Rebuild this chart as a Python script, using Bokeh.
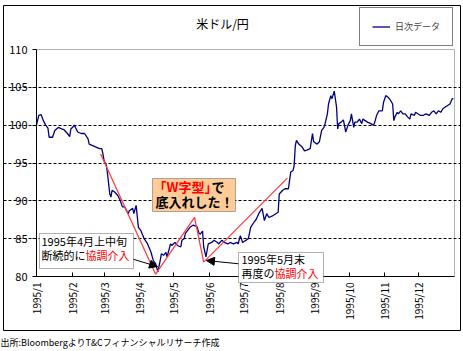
import numpy as np
from bokeh.plotting import figure
from bokeh.models import (FixedTicker, Label, BoxAnnotation, Arrow, NormalHead,
                          Legend, LegendItem, Range1d, Title)
from bokeh.embed import file_html
from bokeh.resources import INLINE

W, H = 463, 351
FONT = "Noto Sans CJK JP"

# ---- data: USD/JPY daily close, 1995 (x = day offset from 1995-01-01) ----
day = [0, 2, 4, 6, 8, 10, 11, 14, 16, 19, 22, 24, 27, 29, 30, 32, 33, 36, 39, 42,
       45, 46, 49, 52, 55, 57, 58, 59, 61, 62, 64, 65, 66, 68, 71, 73, 75, 77, 80, 81,
       84, 85, 87, 89, 91, 94, 97, 100, 102, 104, 106, 108, 109, 111, 113, 114, 116, 117, 118, 121,
       123, 126, 127, 129, 130, 132, 134, 137, 140, 142, 143, 145, 146, 148, 149, 150, 153, 155, 158, 159,
       162, 164, 167, 169, 172, 175, 176, 178, 180, 185, 187, 190, 192, 194, 197, 199, 201, 203, 206, 209,
       211, 212, 215, 217, 220, 221, 222, 224, 225, 226, 227, 229, 232, 234, 236, 239, 241, 242, 245, 247,
       249, 251, 252, 254, 255, 257, 258, 260, 262, 263, 264, 266, 268, 270, 272, 274, 275, 277, 278, 280,
       282, 284, 285, 287, 289, 292, 294, 295, 297, 299, 302, 303, 305, 307, 309, 311, 312, 313, 315, 316,
       318, 320, 322, 324, 326, 327, 330, 331, 333, 335, 338, 340, 343, 345, 347, 349, 351, 353, 355, 357,
       359, 361, 363, 364]
usd_jpy = [100.0, 101.3, 101.4, 100.6, 100.0, 99.6, 98.4, 98.4, 99.3, 99.7, 99.5, 99.4, 98.9, 98.5, 99.5, 99.8, 100.0, 99.1, 98.9, 98.9,
           98.2, 97.5, 97.3, 97.1, 96.9, 96.9, 96.2, 95.3, 94.7, 93.6, 90.9, 90.5, 91.4, 91.2, 90.7, 90.1, 89.2, 89.2, 88.3, 88.7,
           89.0, 88.3, 89.4, 86.5, 86.1, 85.0, 84.3, 83.2, 82.1, 81.7, 80.6, 82.1, 83.0, 82.8, 83.2, 82.6, 83.7, 84.3, 84.1, 84.5,
           84.1, 83.9, 84.8, 85.0, 85.7, 86.1, 86.5, 86.8, 86.6, 85.7, 85.6, 86.0, 83.9, 82.6, 83.5, 84.3, 84.5, 84.8, 84.5, 84.3,
           84.8, 84.5, 84.3, 84.5, 84.3, 84.5, 84.3, 85.4, 84.5, 85.0, 86.5, 87.2, 87.6, 88.3, 89.0, 87.4, 88.3, 87.8, 88.0, 88.3,
           88.5, 90.9, 91.4, 91.6, 91.6, 92.7, 93.8, 94.0, 94.7, 97.3, 98.0, 97.5, 97.1, 96.6, 96.7, 96.9, 98.9, 97.8, 97.5, 97.8,
           99.3, 99.7, 100.2, 101.5, 102.8, 103.9, 103.5, 104.5, 102.4, 99.5, 100.2, 100.4, 100.7, 99.1, 100.0, 100.6, 101.5, 99.7, 100.4, 100.4,
           100.8, 100.2, 100.8, 100.6, 100.4, 100.2, 100.0, 100.2, 101.3, 101.9, 101.9, 103.0, 103.9, 103.7, 103.3, 102.8, 100.6, 101.1, 101.7, 101.5,
           101.9, 101.5, 101.5, 101.1, 100.8, 101.5, 101.3, 101.7, 101.5, 101.3, 101.3, 101.5, 101.3, 101.7, 101.9, 101.5, 101.9, 101.7, 102.2, 102.4,
           102.6, 102.8, 103.5, 103.5]

# "W" bottom guide line (day, value)
w_day = [56, 104, 138, 146, 219]
w_val = [96.2, 80.3, 87.8, 81.9, 93.0]

month_start_day = [0, 31, 59, 90, 120, 151, 181, 212, 243, 273, 304, 334]
month_labels = ["1995/1", "1995/2", "1995/3", "1995/4", "1995/5", "1995/6",
                "1995/7", "1995/8", "1995/9", "1995/10", "1995/11", "1995/12"]
y_ticks = [80, 85, 90, 95, 100, 105, 110]
grid_ticks = [85, 90, 95, 100, 105]

# ---- layout (pixels) ----
OUT_L, OUT_R, OUT_T, OUT_B = 3, 460, 5, 330        # outer chart frame
PA_L, PA_R, PA_T, PA_B = 36, 454, 49, 276          # plot area
X0, X1, Y0, Y1 = 0, 365, 80, 110                   # plot-area data extent
sx = (PA_R - PA_L) / (X1 - X0)
sy = (PA_B - PA_T) / (Y1 - Y0)
x_range = Range1d(X0 - (PA_L - OUT_L) / sx, X1 + (OUT_R - PA_R) / sx)
y_range = Range1d(Y0 - (OUT_B - PA_B) / sy, Y1 + (PA_T - OUT_T) / sy)

p = figure(width=W, height=H, output_backend="svg", toolbar_location=None,
           x_range=x_range, y_range=y_range,
           min_border_left=OUT_L, min_border_right=W - OUT_R,
           min_border_top=OUT_T, min_border_bottom=H - OUT_B)
p.background_fill_color = "white"
p.border_fill_color = "white"
p.outline_line_color = "black"
p.outline_line_width = 1
p.outline_line_alpha = 1

p.xgrid.visible = False
p.ygrid.ticker = FixedTicker(ticks=grid_ticks)
p.ygrid.bounds = (X0, X1)
p.ygrid.grid_line_color = "black"
p.ygrid.grid_line_dash = "3 2"
p.ygrid.grid_line_width = 1

xa, ya = p.xaxis[0], p.yaxis[0]
xa.fixed_location = Y0
xa.bounds = (X0, X1)
xa.ticker = FixedTicker(ticks=month_start_day)
xa.major_label_overrides = {d: l for d, l in zip(month_start_day, month_labels)}
xa.major_label_orientation = np.pi / 2
xa.major_tick_in = 4
xa.major_tick_out = 0
xa.minor_tick_line_color = None
xa.major_label_standoff = 6
xa.major_label_text_font = FONT
xa.major_label_text_font_size = "10px"
xa.major_label_text_color = "black"

ya.fixed_location = X0
ya.bounds = (Y0, Y1)
ya.ticker = FixedTicker(ticks=y_ticks)
ya.major_tick_in = 0
ya.major_tick_out = 4
ya.minor_tick_line_color = None
ya.major_label_standoff = 5
ya.major_label_text_font = FONT
ya.major_label_text_font_size = "11px"
ya.major_label_text_color = "black"
for ax in (xa, ya):
    ax.axis_line_color = "black"
    ax.major_tick_line_color = "black"

# plot-area border
p.add_layout(BoxAnnotation(left=X0, right=X1, bottom=Y0, top=Y1, fill_alpha=0,
                           line_color="black", line_width=1, level="underlay"))

r = p.line(day, usd_jpy, line_color="#000080", line_width=1.3)
p.line(w_day, w_val, line_color="#FF4040", line_width=1.3)

LEG_L, LEG_B = 359, 46
leg = Legend(items=[LegendItem(label="日次データ", renderers=[r])],
             location=(LEG_L - OUT_L, OUT_B - LEG_B),
             border_line_color="black", border_line_width=1,
             background_fill_color="white", background_fill_alpha=1,
             padding=12, margin=0, spacing=0, glyph_width=18, glyph_height=9,
             label_height=9, label_width=45, label_standoff=5,
             label_text_font=FONT, label_text_font_size="9px")
p.add_layout(leg)

# footer (source)
p.add_layout(Title(text="出所:BloombergよりT&Cフィナンシャルリサーチ作成",
                   text_font=FONT, text_font_size="9px", text_font_style="normal",
                   text_color="black", align="left", offset=-OUT_L, standoff=6),
             "below")


def label(x, y, text, size="11px", color="black", bold=False, align="left"):
    p.add_layout(Label(x=x, y=y, x_units="canvas", y_units="canvas", text=text,
                       text_font=FONT, text_font_size=size, text_color=color,
                       text_font_style="bold" if bold else "normal",
                       text_align=align, text_baseline="middle"))


def box(l, t, r_, b, fill="white"):
    p.add_layout(BoxAnnotation(left=l, right=r_, top=t, bottom=b,
                               left_units="canvas", right_units="canvas",
                               top_units="canvas", bottom_units="canvas",
                               fill_color=fill, fill_alpha=1,
                               line_color="black", line_width=1))


label(222, 23, "米ドル/円", size="12px", align="center")

# arrows (data coordinates)
p.add_layout(Arrow(end=NormalHead(size=8, fill_color="black", line_color="black"),
                   x_start=82.1, y_start=82.38, x_end=105.7, y_end=81.32,
                   line_color="black", line_width=1))
p.add_layout(Arrow(end=NormalHead(size=8, fill_color="black", line_color="black"),
                   x_start=176.6, y_start=81.68, x_end=148.4, y_end=82.11,
                   line_color="black", line_width=1))

# annotation box 1
box(39, 233, 133, 268)
label(41, 240, "1995年4月上中旬")
label(41, 254, "断続的に")
label(85, 254, "協調介入", color="#FF0000")

# annotation box 2
box(238, 252, 323, 282)
label(241, 258, "1995年5月末")
label(241, 272, "再度の")
label(274, 272, "協調介入", color="#FF0000")

# annotation box 3
box(152, 178, 235, 211, fill="#FFCC99")
label(153, 186, "「W字型」", size="13px", color="#FF0000", bold=True)
label(211, 186, "で", size="13px", bold=True)
label(155, 201, "底入れした！", size="13px", bold=True)

open("out.html", "w").write(file_html(p, INLINE))
